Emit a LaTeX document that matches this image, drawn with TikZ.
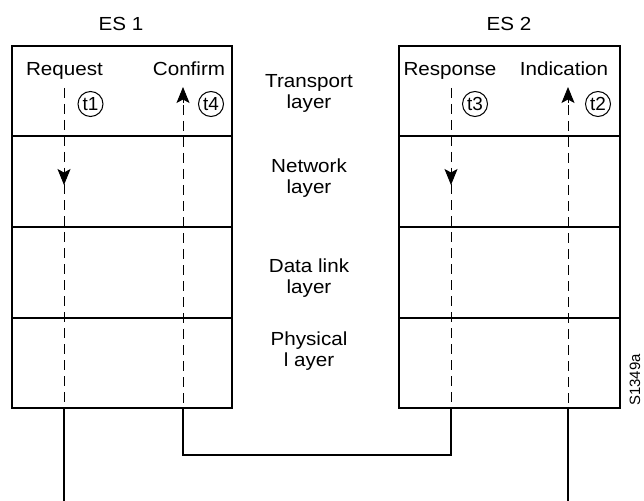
\documentclass[tikz,border=0pt]{standalone}
\usepackage{fontspec}
\setmainfont{Liberation Sans}
\usetikzlibrary{arrows.meta}
\begin{document}
\begin{tikzpicture}[x=1bp,y=-1bp,
  lbl/.style={font=\fontsize{19}{21}\selectfont, inner sep=0pt, xscale=1.09},
  layerlbl/.style={lbl, align=center, anchor=north},
  tcirc/.style={circle, draw, line width=1bp, minimum size=25bp, inner sep=0pt, font=\fontsize{19}{19}\selectfont},
  boxst/.style={draw, line width=1.1bp, inner sep=0pt},
  rowline/.style={line width=1.1bp},
  flow/.style={line width=0.9bp, dash pattern=on 10bp off 6bp},
  wire/.style={line width=1.1bp},
  tipst/.style={-{Stealth[length=16bp,width=13bp,inset=3.5bp]}, line width=0.9bp}]
\useasboundingbox (0,0) rectangle (644,501);

% boxes
\node[boxst, minimum width=220bp, minimum height=362bp] (es1) at (122,227) {};
\node[boxst, minimum width=221bp, minimum height=362bp] (es2) at (509.5,227) {};

% row separators
\foreach \yy in {136,227,318}{
  \draw[rowline] (es1.west |- 0,\yy) -- (es1.east |- 0,\yy);
  \draw[rowline] (es2.west |- 0,\yy) -- (es2.east |- 0,\yy);
}

% titles
\node[lbl, anchor=base] (es1t) at (121,31) {ES 1};
\node[lbl, anchor=base] (es2t) at (509,31) {ES 2};
\node[lbl, anchor=base] (req) at (64.5,76) {Request};
\node[lbl, anchor=base] (conf) at (189,76) {Confirm};
\node[lbl, anchor=base] (resp) at (450,76) {Response};
\node[lbl, anchor=base] (ind) at (564,76) {Indication};

% layer labels
\node[layerlbl] (transport) at (309,74.5) {Transport\\layer};
\node[layerlbl] (network) at (309,158.5) {Network\\layer};
\node[layerlbl] (datalink) at (309,258.5) {Data link\\layer};
\node[layerlbl] (physical) at (309,331.5) {Physical\\l ayer};

% circled times
\node[tcirc] (t1) at (90.5,104) {t1};
\node[tcirc] (t4) at (211,104) {t4};
\node[tcirc] (t3) at (475,104) {t3};
\node[tcirc] (t2) at (598,104) {t2};

% coordinates of the flows
\coordinate (reqtop) at (64,88);
\coordinate (reqbox) at (64,408);
\coordinate (reqend) at (64,501);
\coordinate (reqa1) at (64,168);
\coordinate (reqa2) at (64,185);

\coordinate (conftip) at (183,87);
\coordinate (confa) at (183,103);
\coordinate (conftop) at (183,105);
\coordinate (confbox) at (183,408);
\coordinate (confc) at (183,455);

\coordinate (resptop) at (451,88);
\coordinate (respbox) at (451,408);
\coordinate (respc) at (451,455);
\coordinate (respa1) at (451,168);
\coordinate (respa2) at (451,185);

\coordinate (indtip) at (568,87);
\coordinate (inda) at (568,103);
\coordinate (indtop) at (568,105);
\coordinate (indbox) at (568,408);
\coordinate (indend) at (568,501);

% ES1 request flow
\draw[flow] (reqtop) -- (reqbox);
\draw[wire] (reqbox) -- (reqend);
\draw[tipst] (reqa1) -- (reqa2);

% ES1 confirm flow
\draw[tipst] (confa) -- (conftip);
\draw[flow] (conftop) -- (confbox);
\draw[wire] (confbox) -- (confc) -- (respc) -- (respbox);

% ES2 response flow
\draw[flow] (resptop) -- (respbox);
\draw[tipst] (respa1) -- (respa2);

% ES2 indication flow
\draw[tipst] (inda) -- (indtip);
\draw[flow] (indtop) -- (indbox);
\draw[wire] (indbox) -- (indend);

% figure id
\node[font=\fontsize{15}{15}\selectfont, rotate=90, inner sep=0pt] (fid) at (635,380) {S1349a};
\end{tikzpicture}
\end{document}
